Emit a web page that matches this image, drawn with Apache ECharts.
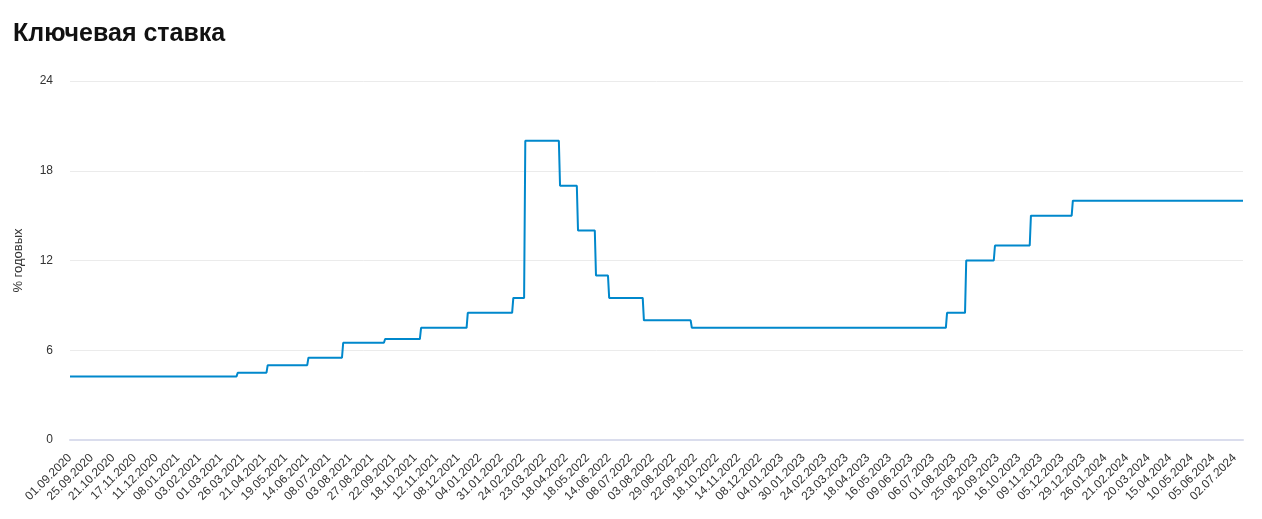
<!DOCTYPE html>
<html>
<head>
<meta charset="utf-8">
<title>Ключевая ставка</title>
<script src="https://cdn.jsdelivr.net/npm/echarts@6/dist/echarts.min.js"></script>
<style>
  html, body { margin: 0; padding: 0; background: #fff; }
  #keyRate { width: 1262px; height: 519px; }
</style>
</head>
<body>
<div id="keyRate"></div>
<script>
  // подписи оси X (каждый 18-й рабочий день)
  var tickLabels = [
    '01.09.2020', '25.09.2020', '21.10.2020', '17.11.2020', '11.12.2020',
    '08.01.2021', '03.02.2021', '01.03.2021', '26.03.2021', '21.04.2021', '19.05.2021', '14.06.2021',
    '08.07.2021', '03.08.2021', '27.08.2021', '22.09.2021', '18.10.2021', '12.11.2021', '08.12.2021',
    '04.01.2022', '31.01.2022', '24.02.2022', '23.03.2022', '18.04.2022', '18.05.2022', '14.06.2022',
    '08.07.2022', '03.08.2022', '29.08.2022', '22.09.2022', '18.10.2022', '14.11.2022', '08.12.2022',
    '04.01.2023', '30.01.2023', '24.02.2023', '23.03.2023', '18.04.2023', '16.05.2023', '09.06.2023',
    '06.07.2023', '01.08.2023', '25.08.2023', '20.09.2023', '16.10.2023', '09.11.2023', '05.12.2023',
    '29.12.2023', '26.01.2024', '21.02.2024', '20.03.2024', '15.04.2024', '10.05.2024', '05.06.2024',
    '02.07.2024'
  ];
  var tickStep = 18;      // рабочих дней между подписями
  var lastIndex = 979;    // последний день ряда (~11.07.2024)

  // решения по ставке: дата вступления и значение, % годовых
  var startRate = 4.25;
  var changeDates = [
    '22.03.2021', '26.04.2021', '15.06.2021', '26.07.2021', '13.09.2021', '25.10.2021',
    '20.12.2021', '14.02.2022', '28.02.2022', '11.04.2022', '04.05.2022', '27.05.2022',
    '14.06.2022', '25.07.2022', '19.09.2022', '24.07.2023', '15.08.2023', '18.09.2023',
    '30.10.2023', '18.12.2023'
  ];
  var changeRates = [
    4.5, 5, 5.5, 6.5, 6.75, 7.5,
    8.5, 9.5, 20, 17, 14, 11,
    9.5, 8, 7.5, 8.5, 12, 13,
    15, 16
  ];

  function parseDate(s) {
    var p = s.split('.');
    return new Date(+p[2], +p[1] - 1, +p[0]);
  }

  // число будних дней в (a, b]
  function weekdaysBetween(a, b) {
    var n = 0, d = new Date(a.getTime());
    while (d < b) {
      d.setDate(d.getDate() + 1);
      var w = d.getDay();
      if (w !== 0 && w !== 6) n++;
    }
    return n;
  }

  // позиция даты на оси (индекс рабочего дня) по соседним подписям
  var tickDates = tickLabels.map(parseDate);
  function dateToIndex(s) {
    var d = parseDate(s);
    for (var i = 0; i < tickDates.length - 1; i++) {
      if (d >= tickDates[i] && d < tickDates[i + 1]) {
        var part = weekdaysBetween(tickDates[i], d) / weekdaysBetween(tickDates[i], tickDates[i + 1]);
        return i * tickStep + Math.round(part * tickStep);
      }
    }
    return lastIndex;
  }

  // ряд по дням: значение держится до следующего решения
  var seriesData = [[0, startRate]];
  var prev = startRate;
  changeDates.forEach(function (s, k) {
    var idx = dateToIndex(s);
    seriesData.push([idx - 1, prev]);
    seriesData.push([idx, changeRates[k]]);
    prev = changeRates[k];
  });
  seriesData.push([lastIndex, prev]);

  var fontFamily = 'Arial, "Liberation Sans", sans-serif';
  var chart = echarts.init(document.getElementById('keyRate'));
  chart.setOption({
    animation: false,
    textStyle: { fontFamily: fontFamily },
    title: {
      text: 'Ключевая ставка',
      left: 8,
      top: 17,
      textStyle: { fontSize: 25, fontWeight: 'bold', color: '#111', fontFamily: fontFamily }
    },
    grid: { left: 70, right: 19, top: 81, bottom: 79, containLabel: false },
    xAxis: {
      type: 'value',
      min: 0,
      max: lastIndex,
      interval: tickStep,
      axisLine: { show: true, lineStyle: { color: '#dadded', width: 2 } },
      axisTick: { show: false },
      splitLine: { show: false },
      axisLabel: {
        rotate: 45,
        margin: 16,
        fontSize: 12,
        color: '#333',
        showMaxLabel: false,
        formatter: function (v) {
          var i = v / tickStep;
          return (i % 1 === 0 && tickLabels[i]) ? tickLabels[i] : '';
        }
      }
    },
    yAxis: {
      type: 'value',
      min: 0,
      max: 24,
      interval: 6,
      name: '% годовых',
      nameLocation: 'middle',
      nameRotate: 90,
      nameGap: 45,
      nameTextStyle: { fontSize: 13, color: '#333' },
      axisLine: { show: false },
      axisTick: { show: false },
      splitLine: { lineStyle: { color: '#ebebeb', width: 1 } },
      axisLabel: { margin: 17, fontSize: 12, color: '#333' }
    },
    series: [{
      name: 'Ключевая ставка',
      type: 'line',
      showSymbol: false,
      data: seriesData,
      lineStyle: { color: '#0088cc', width: 2 }
    }]
  });
</script>
</body>
</html>
